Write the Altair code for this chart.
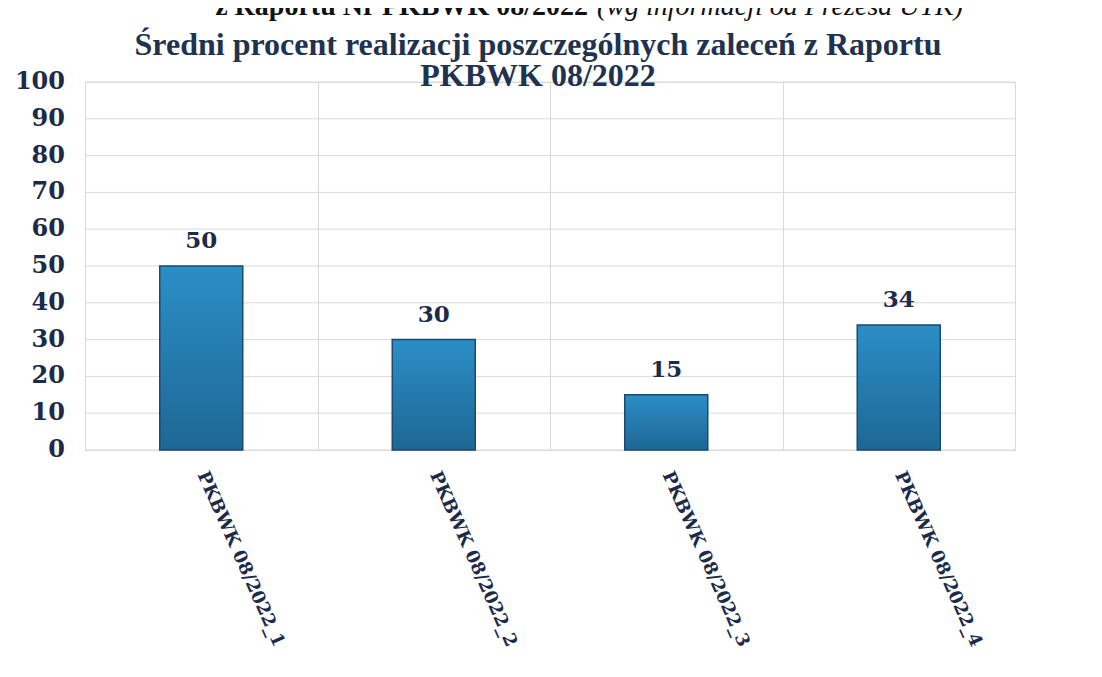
import altair as alt
import pandas as pd

categories = ["PKBWK 08/2022_1", "PKBWK 08/2022_2", "PKBWK 08/2022_3", "PKBWK 08/2022_4"]
values = [50, 30, 15, 34]
y_ticks = [0, 10, 20, 30, 40, 50, 60, 70, 80, 90, 100]
title_line1 = "Średni procent realizacji poszczególnych  zaleceń z Raportu"
title_line2 = "PKBWK 08/2022"
top_bold = "z Raportu Nr PKBWK 08/2022"
top_italic = "(wg informacji od Prezesa UTK)"

df = pd.DataFrame({"cat": categories, "val": values})
ticks_df = pd.DataFrame({"tick": y_ticks})

NAVY = "#1c2b49"
GRID = "#d9d9d9"

y_scale = alt.Scale(domain=[0, 100], nice=False)

x_enc = alt.X(
    "cat:N",
    sort=categories,
    title=None,
    scale=alt.Scale(paddingInner=0, paddingOuter=0),
    axis=alt.Axis(
        labelAngle=66,
        labelAlign="left",
        labelBaseline="middle",
        labelFont="DejaVu Serif",
        labelFontWeight="bold",
        labelFontSize=18,
        labelColor=NAVY,
        labelPadding=22,
        labelLimit=0,
        labelOverlap=False,
        ticks=False,
        domain=False,
        grid=True,
        gridColor=GRID,
        tickBand="extent",
    ),
)
y_enc = alt.Y("val:Q", title=None, scale=y_scale, axis=None)

grid = alt.Chart(ticks_df).mark_rule(color=GRID, strokeWidth=1).encode(
    y=alt.Y("tick:Q", scale=y_scale, axis=None)
)

ylabels = alt.Chart(ticks_df).mark_text(
    font="DejaVu Serif", fontWeight="bold", fontSize=24, color=NAVY,
    align="right", baseline="middle", dx=-20,
).encode(
    x=alt.value(0),
    y=alt.Y("tick:Q", scale=y_scale, axis=None),
    text="tick:Q",
)

bars = alt.Chart(df).mark_bar(
    size=83,
    stroke="#1a4a6e",
    strokeWidth=1.5,
    color=alt.Gradient(
        gradient="linear",
        stops=[
            alt.GradientStop(color="#2b8ec6", offset=0),
            alt.GradientStop(color="#1e6795", offset=1),
        ],
        x1=1, x2=1, y1=0, y2=1,
    ),
).encode(x=x_enc, y=y_enc)

labels = alt.Chart(df).mark_text(
    dy=-18,
    font="DejaVu Serif",
    fontWeight="bold",
    fontSize=23,
    color=NAVY,
    baseline="alphabetic",
).encode(x=x_enc, y=y_enc, text="val:Q")

top1 = alt.Chart(pd.DataFrame({"t": [top_bold]})).mark_text(
    font="Liberation Serif", fontWeight="bold", fontSize=28, color="#111111",
    align="right", baseline="alphabetic",
).encode(x=alt.value(503), y=alt.value(-67), text="t:N")

top2 = alt.Chart(pd.DataFrame({"t": [top_italic]})).mark_text(
    font="Liberation Serif", fontStyle="italic", fontSize=28, color="#111111",
    align="left", baseline="alphabetic",
).encode(x=alt.value(512), y=alt.value(-67), text="t:N")

title1 = alt.Chart(pd.DataFrame({"t": [title_line1]})).mark_text(
    font="Liberation Serif", fontWeight="bold", fontSize=32, color="#1f3350",
    align="center", baseline="alphabetic",
).encode(x=alt.value(453), y=alt.value(-27), text="t:N")

title2 = alt.Chart(pd.DataFrame({"t": [title_line2]})).mark_text(
    font="Liberation Serif", fontWeight="bold", fontSize=32, color="#1f3350",
    align="center", baseline="alphabetic",
).encode(x=alt.value(453), y=alt.value(4), text="t:N")

chart = alt.layer(grid, bars, labels, ylabels, top1, top2, title1, title2).properties(
    width=930,
    height=368,
    padding={"left": 77, "top": 74, "right": 71, "bottom": 219},
    autosize=alt.AutoSizeParams(type="none"),
).configure_view(stroke=GRID).configure(background="white")

chart.save("out.html", embed_options={"renderer": "svg", "actions": False})
